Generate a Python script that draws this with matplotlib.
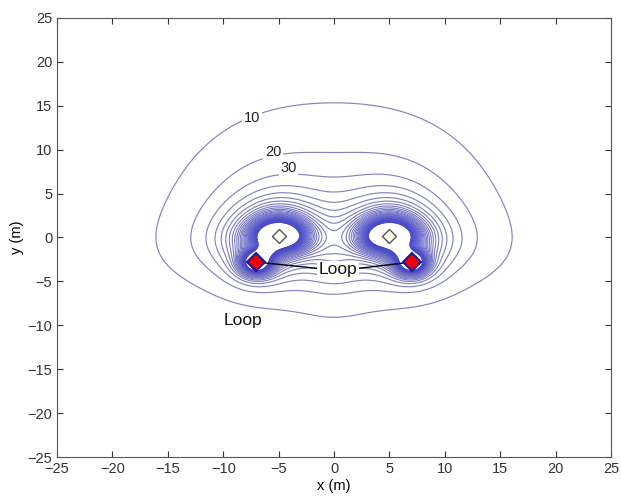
import numpy as np
import matplotlib
matplotlib.use("Agg")
import matplotlib.pyplot as plt
from matplotlib.colors import to_rgb

plt.rcParams['font.family'] = ['Liberation Sans', 'DejaVu Sans']

# ---- data (scene description) ----
source_x = [-5.0, 5.0]          # transmitter positions (white diamonds)
source_y = [0.2, 0.2]
source_strength = [1490.0, 1490.0]
loop_x = [-7.0, 7.0]            # loop ends (red diamonds)
loop_y = [-2.8, -2.8]
loop_strength = [450.0, 450.0]
loop_power = 3.5
feed_density = 75.0             # feed line from transmitter to loop end
feed_power = 3.0
lobe_x = [0.0]                  # central lobe under the loop wire
lobe_y = [-3.0]
lobe_strength = [470.0]
decay_power = 2.2
stretch_up = 0.80
stretch_down = 1.90
contour_levels = list(range(10, 410, 10))
label_levels = [10, 20, 30]
label_x = [-7.4, -5.5, -4.1]
label_y = [13.6, 9.7, 7.9]
xticks = [-25, -20, -15, -10, -5, 0, 5, 10, 15, 20, 25]
yticks = [-25, -20, -15, -10, -5, 0, 5, 10, 15, 20, 25]

# ---- field ----
gx = np.linspace(-25, 25, 1001)
gy = np.linspace(-25, 25, 1001)
X, Y = np.meshgrid(gx, gy)

def rdist(x0, y0, up, down, soft=0.05, xs=1.0, w=4.0):
    dy = Y - y0
    s = up + (down - up) / (1.0 + np.exp(np.clip(dy / w, -50, 50)))
    return np.sqrt(((X - x0) / xs) ** 2 + (s * dy) ** 2 + soft)

F = np.zeros_like(X)
for xs, ys, a in zip(source_x, source_y, source_strength):
    F += a * rdist(xs, ys, stretch_up, stretch_down) ** (-decay_power)
for xs, ys, a in zip(loop_x, loop_y, loop_strength):
    F += a * rdist(xs, ys, 1.0, 1.0, 0.3) ** (-loop_power)
for xs, ys, a in zip(lobe_x, lobe_y, lobe_strength):
    F += a * rdist(xs, ys, 3.0, 1.0, 16.0, 0.5) ** (-decay_power)
# feed lines (transmitter -> loop end)
nseg = 24
for sx, sy, lx, ly in zip(source_x, source_y, loop_x, loop_y):
    length = np.hypot(lx - sx, ly - sy)
    for t in np.linspace(0, 1, nseg):
        px = sx + t * (lx - sx)
        py = sy + t * (ly - sy)
        F += feed_density * length / nseg * rdist(px, py, 1.0, 1.0, 0.1) ** (-feed_power)

# colours: light lavender for low levels, stronger blue for high levels
c_lo = np.array(to_rgb('#8484c2'))
c_hi = np.array(to_rgb('#4a4acc'))
level_colors = []
level_widths = []
for lv in contour_levels:
    t = min(max((lv - 60) / 200.0, 0.0), 1.0)
    level_colors.append(tuple(c_lo * (1 - t) + c_hi * t))
    level_widths.append(0.85 - 0.35 * t)

fig = plt.figure(figsize=(6.21, 4.98), dpi=100)
ax = fig.add_axes([0.0918, 0.0823, 0.8922, 0.8816])
ax.contour(X, Y, F, levels=contour_levels, colors=level_colors, linewidths=level_widths)

# labels for contours
for lv, lx, ly in zip(label_levels, label_x, label_y):
    ax.text(lx, ly, str(lv), fontsize=10.5, ha='center', va='center', color='#222222',
            bbox=dict(facecolor='white', edgecolor='none', pad=1.0), zorder=5)

# markers
ax.plot(source_x, source_y, 'D', ms=7, mfc='#fffff0', mec='#555555', mew=1.0, ls='none', zorder=6)
ax.plot(loop_x, loop_y, 'D', ms=9, mfc='#ee0000', mec='#1a1aa0', mew=1.5, ls='none', zorder=6)

# Loop annotations
ax.plot([loop_x[0], -1.6], [loop_y[0], -3.5], color='black', lw=1.0, zorder=4)
ax.plot([2.3, loop_x[1]], [-3.5, loop_y[1]], color='black', lw=1.0, zorder=4)
ax.text(0.36, -3.7, 'Loop', fontsize=12.5, ha='center', va='center', color='#111111',
        bbox=dict(facecolor='white', edgecolor='none', pad=1.0), zorder=7)
ax.text(-8.2, -9.4, 'Loop', fontsize=12.5, ha='center', va='center', color='#111111', zorder=7)

ax.set_xlim(-25, 25)
ax.set_ylim(-25, 25)
ax.set_xticks(xticks)
ax.set_yticks(yticks)
ax.tick_params(direction='in', top=True, right=True, length=4, labelsize=10.5, colors='#333333')
for s in ax.spines.values():
    s.set_color('#555555')
    s.set_linewidth(0.8)
ax.set_xlabel('x (m)', fontsize=10.5, labelpad=2)
ax.set_ylabel('y (m)', fontsize=10.5, labelpad=2)

fig.savefig('out.png', dpi=100)
